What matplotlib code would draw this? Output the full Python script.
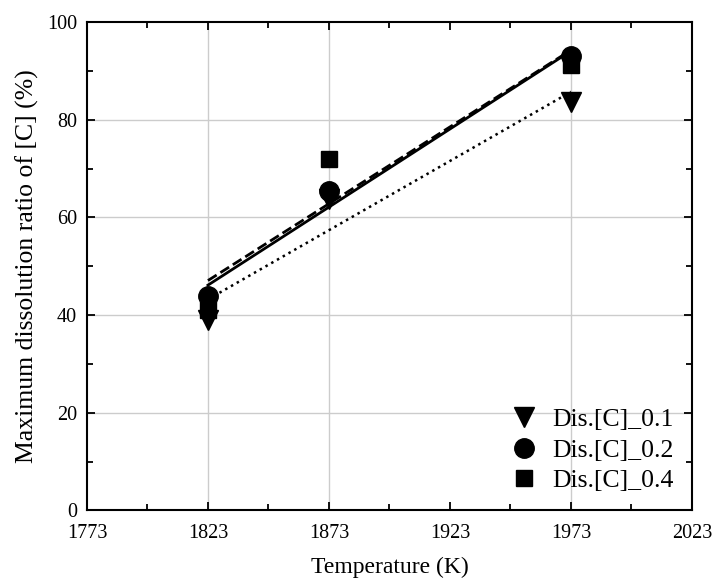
import matplotlib
matplotlib.use("Agg")
import matplotlib.pyplot as plt
import numpy as np
from matplotlib.ticker import MultipleLocator

plt.rcParams['font.family'] = ['Liberation Serif', 'DejaVu Serif']
plt.rcParams['mathtext.fontset'] = 'stix'

# data
temps = [1823, 1873, 1973]
dis_01 = [39.0, 63.7, 83.6]
dis_02 = [44.0, 65.3, 93.0]
dis_04 = [41.0, 71.9, 91.2]
labels = ['Dis.[C]_0.1', 'Dis.[C]_0.2', 'Dis.[C]_0.4']
markers = ['v', 'o', 's']
fit_styles = [':', '-', '--']
xticks = [1773, 1823, 1873, 1923, 1973, 2023]

fig = plt.figure(figsize=(7.14, 5.83), dpi=100)
ax = fig.add_axes([0.1218, 0.1244, 0.8473, 0.8379])

# light drop lines at the measured temperatures + horizontal grid
for t in temps:
    ax.axvline(t, color='#cccccc', lw=1, zorder=0)
for yv in [20, 40, 60, 80]:
    ax.axhline(yv, color='#cccccc', lw=1, zorder=0)

series = [dis_01, dis_02, dis_04]
msizes = [15, 14, 12]
for vals, lab, mk, ls, ms in zip(series, labels, markers, fit_styles, msizes):
    ax.plot(temps, vals, linestyle='none', marker=mk, color='black',
            markersize=ms, label=lab, zorder=3)
    # linear fit
    k, b = np.polyfit(temps, vals, 1)
    xx = np.array([temps[0], temps[-1]])
    ax.plot(xx, k * xx + b, color='black', linestyle=ls,
            lw=2.0 if ls != ':' else 1.8, zorder=2)

ax.set_xlim(1773, 2023)
ax.set_ylim(0, 100)
ax.set_xticks(xticks)
ax.set_xticks([t + 25 for t in xticks[:-1]], minor=True)
ax.yaxis.set_major_locator(MultipleLocator(20))
ax.yaxis.set_minor_locator(MultipleLocator(10))
ax.tick_params(which='both', direction='in', top=True, right=True,
               labelsize=14.5, width=1.3)
ax.tick_params(axis='x', pad=10)
ax.tick_params(axis='y', pad=7)
ax.tick_params(which='major', length=6)
ax.tick_params(which='minor', length=4)
for s in ax.spines.values():
    s.set_linewidth(1.5)

ax.set_xlabel('Temperature (K)', fontsize=17, labelpad=10)
ax.set_ylabel('Maximum dissolution ratio of [C] (%)', fontsize=18.5, labelpad=6)

ax.legend(loc='lower right', frameon=False, fontsize=18.5, handletextpad=0.45,
          labelspacing=0.3, borderaxespad=0.3, handlelength=1.3)

fig.savefig('out.png', dpi=100)
